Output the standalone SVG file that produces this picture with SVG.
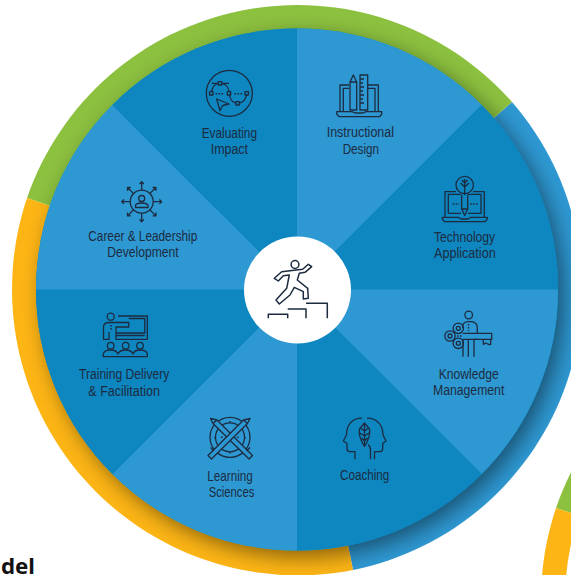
<svg xmlns="http://www.w3.org/2000/svg" width="571" height="575" viewBox="0 0 571 575">
<style>
.l{fill:#2e98d2}.d{fill:#0e86bf}
.t{font-family:"Liberation Sans",Arial,sans-serif;font-size:14px;fill:#1c2b3f}
.i{fill:none;stroke:#1c2b3f;stroke-width:1.3;stroke-linejoin:round}
.dot{stroke-dasharray:1.6 1.4}
</style>
<defs>
<filter id="sh" x="-20%" y="-20%" width="140%" height="140%"><feDropShadow dx="6" dy="7" stdDeviation="10" flood-color="#000" flood-opacity=".45"/></filter>
<clipPath id="oc"><circle cx="297" cy="290" r="286"/></clipPath>
<g id="band">
<path d="M297 290L512 102A286 286 0 0 0 27 198Z" fill="#8cc03f"/>
<path d="M297 290L27 198A286 286 0 0 0 353 570Z" fill="#fdb515"/>
</g>
</defs>
<g id="ring">
<path d="M297 290L512 102A286 286 0 0 1 353 570Z" fill="#2e98d2"/>
<use href="#band"/>
<g clip-path="url(#oc)"><circle cx="297" cy="289.500" r="261" fill="#0e86bf" filter="url(#sh)"/></g>
<use href="#band" x="529" y="310"/>
<circle cx="826" cy="600" r="261" fill="#fff"/>
</g>
<g id="wedges">
<path class="l" d="M297 289.500V28.500A261 261 0 0 1 481.600 104.900Z"/>
<path class="d" d="M297 289.500L481.600 104.900A261 261 0 0 1 558 289.500Z"/>
<path class="l" d="M297 289.500H558A261 261 0 0 1 481.600 474.100Z"/>
<path class="d" d="M297 289.500L481.600 474.100A261 261 0 0 1 297 550.500Z"/>
<path class="l" d="M297 289.500V550.500A261 261 0 0 1 112.400 474.100Z"/>
<path class="d" d="M297 289.500L112.400 474.100A261 261 0 0 1 36 289.500Z"/>
<path class="l" d="M297 289.500H36A261 261 0 0 1 112.400 104.900Z"/>
<path class="d" d="M297 289.500L112.400 104.900A261 261 0 0 1 297 28.500Z"/>
</g>
<g id="hub">
<circle cx="297.500" cy="290" r="53.500" fill="#fff"/>
<g fill="none" stroke="#1c2b3f" stroke-width="1.500" stroke-linejoin="round">
<circle cx="295" cy="264.500" r="3.900"/>
<path d="M268.300 318.300V314.300H287.700V318.300M287.700 309H306V318.300M306 303.300H327.300V318.300"/>
<path d="M311.700 266.700L308.300 264.300L302.700 269.300L290 270.700L281.700 271.700L274.300 278.300L278.300 281L283.300 275.700L289.300 275L286.700 288.300L276 300L279.300 304L290 295L294.300 287.300L303.300 291.700V299L308.300 298.300L307.700 288.300L297.300 280L299.300 273.300L305 272.300Z"/>
</g>
</g>
<g id="instructional-design">
<g class="i"><path d="M340 111V85H349M368 85H378.300V111M343.300 111V88.300H349M368 88.300H375V111M336.700 111.700H352L355 113H363L366 111.700H381.700V114L379.700 116.700H339L336.700 114Z"/>
<path d="M350 110V82L353.300 75L356.700 82V110ZM350 82H356.700"/>
<path d="M360 110V75H367.700V110ZM360 79H364M360 83H363M360 87H364M360 91H363M360 95H364M360 99H363M360 103H364"/></g>
<text class="t" x="326.700" y="137" textLength="67.300" lengthAdjust="spacingAndGlyphs">Instructional</text>
<text class="t" x="342.700" y="154" textLength="36.300" lengthAdjust="spacingAndGlyphs">Design</text>
</g>
<g id="technology-application">
<g class="i"><path d="M445 217V191.700H456M473 191.700H484.300V217M448.300 213.300V194.300H461M468 194.300H481V213.300H468M461 213.300H448.300"/>
<path d="M442.300 217.300H458L461 219H468L471 217.300H487.300V219L485 221.700H444.500L442.300 219Z"/>
<circle cx="464.700" cy="185" r="8.700"/>
<path d="M464.700 195V179M464.700 187L460.500 183M464.700 187L469 183M464.700 183L462 180M464.700 183L467.500 180"/>
<path d="M461.700 195V209L464.700 215.500L467.700 209V195M461.700 209H467.700"/>
<path class="dot" d="M452.700 204H459.300M470 204H477.700" stroke-width="1.500"/></g>
<text class="t" x="434" y="241.600" textLength="61" lengthAdjust="spacingAndGlyphs">Technology</text>
<text class="t" x="434" y="257.700" textLength="61.700" lengthAdjust="spacingAndGlyphs">Application</text>
</g>
<g id="knowledge-management">
<g class="i"><circle cx="468.700" cy="315" r="3.800"/>
<path d="M462.700 328V326Q463 322 468.500 321.700H471Q477.300 322 477.300 328V333.300M463 339.300V356.700M477.700 339.300L474 339.300V356.700M468.300 339.300V356.700"/>
<path d="M462.700 333.300H491.700V339.300H463M483.300 339.300V344.300L486 343L488.500 344.500L490.700 344.300V339.300"/>
<circle cx="458.300" cy="328.300" r="5.200"/><circle cx="458.300" cy="328.300" r="2"/>
<circle cx="450" cy="336" r="5.200"/><circle cx="450" cy="336" r="2"/>
<circle cx="458.300" cy="343.300" r="5.200"/><circle cx="458.300" cy="343.300" r="2"/>
<path class="dot" d="M457 336H463M468.500 324V331" stroke-width="1.500"/></g>
<text class="t" x="438.700" y="378.700" textLength="60" lengthAdjust="spacingAndGlyphs">Knowledge</text>
<text class="t" x="433" y="395" textLength="71.300" lengthAdjust="spacingAndGlyphs">Management</text>
</g>
<g id="coaching">
<g class="i"><path d="M355 459.300V451.700H349.500Q347 451.500 347 448.500V443.500L343.300 441L346.500 435C346.500 425 352 418.200 362 418.200"/>
<path d="M374.500 459.300V451.700H380Q382.700 451.500 382.700 448.500V443.500L386 441L383 435C383 425 377 418.200 367 418.200"/>
<path d="M370.500 459.300V450Q371 447 368 444.500M364.500 423L369.500 429Q371 436 364.500 446.500Q358 436 359.500 429ZM364.500 423V446M364.500 431L361 428.500M364.500 431L368 428.500M364.500 436L360 433M364.500 436L369 433M364.500 441L361.500 438M364.500 441L367.500 438"/></g>
<text class="t" x="340" y="480" textLength="49.300" lengthAdjust="spacingAndGlyphs">Coaching</text>
</g>
<g id="learning-sciences">
<g class="i"><circle cx="230" cy="437.300" r="20"/><circle cx="230" cy="437.300" r="14.500"/>
<path d="M210.500 418.500L217 420L252.500 455.500L249 459L245.500 455.500L213 423.500ZM217 420L213 423.500M246.500 451L250 447.500" fill="#2e98d2"/>
<path d="M250 418.500L243.500 420L208 455.500L211.500 459L215 455.500L247.500 423.500ZM243.500 420L247.500 423.500M214 451L210.500 447.500" fill="#2e98d2"/>
<path class="dot" d="M230 421V423M230 452V454M215 437V439M245 437V439M221 437.300H223M237 437.300H239" stroke-width="1.500"/></g>
<text class="t" x="207.300" y="480.700" textLength="45.400" lengthAdjust="spacingAndGlyphs">Learning</text>
<text class="t" x="208.700" y="496.700" textLength="45.600" lengthAdjust="spacingAndGlyphs">Sciences</text>
</g>
<g id="training-delivery">
<g class="i"><circle cx="110.700" cy="316.700" r="3.500"/>
<path d="M118 316H147.300V339.300H116V327H128.700V322.500H109Q103.500 322.500 103.500 327V339.300H109V332"/>
<path d="M128.700 318.500H144.800V333H116M116 335.500H144.800" />
<path class="dot" d="M111 325V331" stroke-width="1.500"/>
<circle cx="110.700" cy="345.700" r="3.300"/><circle cx="125.700" cy="345.700" r="3.300"/><circle cx="140" cy="345.700" r="3.300"/>
<path d="M103.300 356.700V354Q104 350 110.700 350Q116.500 350 118 354Q119.500 350 125.700 350Q131.500 350 133 354Q134.500 350 140 350Q146.700 350 147.300 354V356.700Z"/></g>
<text class="t" x="79" y="379" textLength="90.300" lengthAdjust="spacingAndGlyphs">Training Delivery</text>
<text class="t" x="88.300" y="395.700" textLength="71.700" lengthAdjust="spacingAndGlyphs">&amp; Facilitation</text>
</g>
<g id="career-leadership">
<g class="i"><circle cx="141.700" cy="201.700" r="11.500"/><circle cx="141.700" cy="198.500" r="3"/>
<path d="M135.500 207.500V205.500Q136 203 141.700 203Q147.400 203 148 205.500V207.500Z"/>
<path d="M141.700 190.200V181.700M139.500 184L141.700 181.700L143.900 184M141.700 213.200V221.700M139.500 219.400L141.700 221.700L143.900 219.400M130.200 201.700H121.700M124 199.500L121.700 201.700L124 203.900M153.200 201.700H161.700M159.400 199.500L161.700 201.700L159.400 203.900M133.600 193.600L127.500 187.500M127.500 190.800V187.500H130.800M149.800 193.600L155.900 187.500M152.600 187.500H155.900V190.800M133.600 209.800L127.500 215.900M127.500 212.600V215.900H130.800M149.800 209.800L155.900 215.900M152.600 215.900H155.900V212.600"/></g>
<text class="t" x="88.300" y="241" textLength="109" lengthAdjust="spacingAndGlyphs">Career &amp; Leadership</text>
<text class="t" x="107.300" y="257.300" textLength="71.400" lengthAdjust="spacingAndGlyphs">Development</text>
</g>
<g id="evaluating-impact">
<g class="i"><circle cx="229.300" cy="93.300" r="23"/>
<path d="M211.300 93.300C212 87 215 83.300 220 83.300C226 83.300 229 88 229.300 93.300C229.500 99 232.500 103.300 237.700 103.300C243 103.300 246.500 99 246.700 93.300M211.700 83.300H229"/>
<g fill="#0e86bf"><rect x="209.600" y="91.600" width="3.400" height="3.400"/><rect x="218.300" y="81.600" width="3.400" height="3.400"/><rect x="227.300" y="91.600" width="3.400" height="3.400"/><rect x="236" y="101.600" width="3.400" height="3.400"/><rect x="245" y="91.600" width="3.400" height="3.400"/></g>
<path class="dot" d="M215.500 93.700H224M234.500 93.700H243" stroke-width="1.500"/>
<path d="M216.700 99L229 104L222.700 105.500L220 110.700Z"/></g>
<text class="t" x="201.700" y="137.500" textLength="55.300" lengthAdjust="spacingAndGlyphs">Evaluating</text>
<text class="t" x="210.700" y="154" textLength="37.300" lengthAdjust="spacingAndGlyphs">Impact</text>
</g>
<text x="1" y="574" font-family="'Noto Sans','Liberation Sans',sans-serif" font-size="21" font-weight="700" fill="#111" textLength="34" lengthAdjust="spacingAndGlyphs">del</text>
</svg>
